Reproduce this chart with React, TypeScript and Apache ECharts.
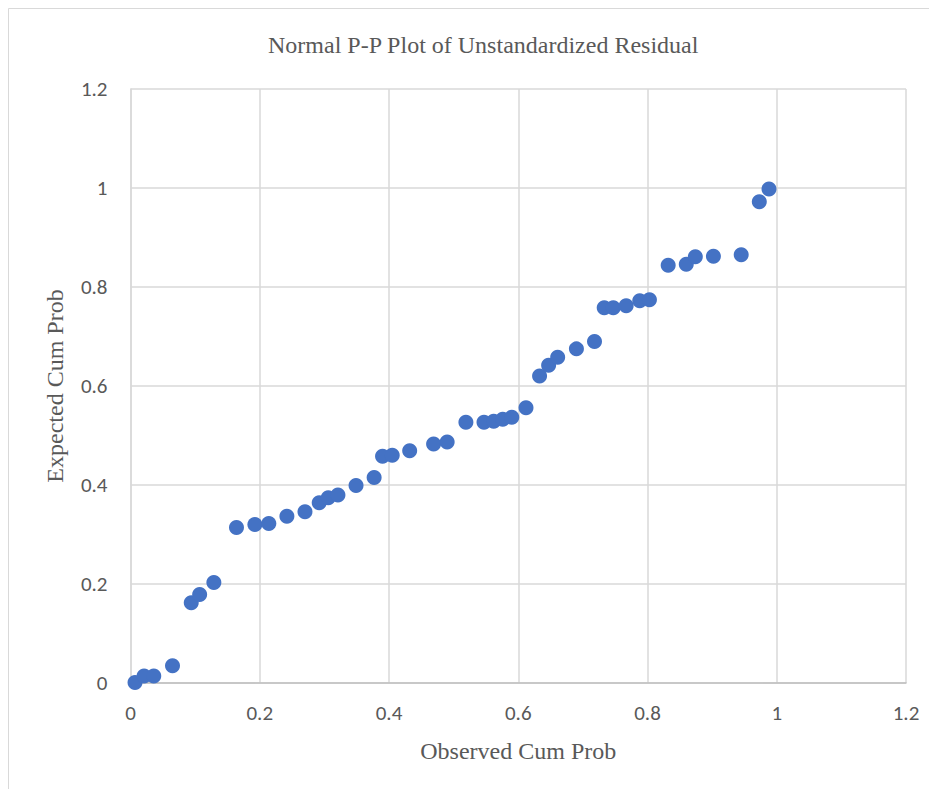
import React, { useEffect, useRef } from "react";
import * as echarts from "echarts";

const observedCumProb = [
  0.007, 0.021, 0.036, 0.065, 0.094, 0.107, 0.129,
  0.164, 0.1925, 0.214, 0.242, 0.27, 0.292, 0.306, 0.321, 0.349, 0.377, 0.39, 0.405, 0.432,
  0.469, 0.49, 0.519, 0.547, 0.562, 0.576, 0.59, 0.612,
  0.633, 0.647, 0.661, 0.69, 0.718, 0.733, 0.747, 0.767, 0.788, 0.803,
  0.832, 0.86, 0.874, 0.902, 0.945, 0.973, 0.988,
];
const expectedCumProb = [
  0.001, 0.014, 0.014, 0.035, 0.162, 0.179, 0.203,
  0.314, 0.32, 0.322, 0.337, 0.346, 0.364, 0.374, 0.38, 0.399, 0.415, 0.458, 0.46, 0.469,
  0.483, 0.487, 0.527, 0.527, 0.529, 0.533, 0.537, 0.556,
  0.62, 0.642, 0.658, 0.675, 0.69, 0.758, 0.758, 0.762, 0.772, 0.774,
  0.844, 0.846, 0.861, 0.862, 0.865, 0.972, 0.998,
];
const titleText = "Normal P-P Plot of Unstandardized Residual";
const xAxisTitle = "Observed Cum Prob";
const yAxisTitle = "Expected Cum Prob";

export default function App() {
  const ref = useRef<HTMLDivElement>(null);
  useEffect(() => {
    if (!ref.current) return;
    const chart = echarts.init(ref.current, undefined, { renderer: "svg" });
    const tickFont = "Carlito, 'Liberation Sans Narrow', 'Open Sans', sans-serif";
    const serif = "'Liberation Serif', 'DejaVu Serif', serif";
    chart.setOption({
      animation: false,
      backgroundColor: "#ffffff",
      title: {
        text: titleText,
        left: 255,
        top: 20,
        textStyle: { fontFamily: serif, fontSize: 24, fontWeight: "normal", color: "#595959" },
      },
      graphic: [
        {
          type: "rect",
          shape: { x: 0.5, y: 0.5, width: 1000, height: 1000 },
          style: { fill: "none", stroke: "#d9d9d9", lineWidth: 1 },
          silent: true,
        },
      ],
      grid: { left: 122.5, right: 31, top: 81, bottom: 106, containLabel: false },
      xAxis: {
        type: "value",
        min: 0,
        max: 1.2,
        interval: 0.2,
        name: xAxisTitle,
        nameLocation: "middle",
        nameGap: 56,
        nameTextStyle: { fontFamily: serif, fontSize: 24, color: "#595959" },
        axisLine: { show: true, lineStyle: { color: "#bfbfbf", width: 1.5 } },
        axisTick: { show: false },
        axisLabel: {
          fontFamily: tickFont,
          fontSize: 21,
          color: "#595959",
          margin: 19,
          formatter: (v: number) => String(Math.round(v * 10) / 10),
        },
        splitLine: { show: true, lineStyle: { color: "#d9d9d9", width: 1.5 } },
      },
      yAxis: {
        type: "value",
        min: 0,
        max: 1.2,
        interval: 0.2,
        name: yAxisTitle,
        nameLocation: "middle",
        nameGap: 64,
        nameRotate: 90,
        nameTextStyle: { fontFamily: serif, fontSize: 24, color: "#595959" },
        axisLine: { show: true, lineStyle: { color: "#d9d9d9", width: 1.5 } },
        axisTick: { show: false },
        axisLabel: {
          fontFamily: tickFont,
          fontSize: 21,
          color: "#595959",
          margin: 23,
          formatter: (v: number) => String(Math.round(v * 10) / 10),
        },
        splitLine: { show: true, lineStyle: { color: "#d9d9d9", width: 1.5 } },
      },
      series: [
        {
          type: "scatter",
          data: observedCumProb.map((x, i) => [x, expectedCumProb[i]]),
          symbol: "circle",
          symbolSize: 15,
          itemStyle: { color: "#4472C4", opacity: 1 },
        },
      ],
    });
    return () => chart.dispose();
  }, []);
  return <div ref={ref} style={{ width: 929, height: 781 }} />;
}
